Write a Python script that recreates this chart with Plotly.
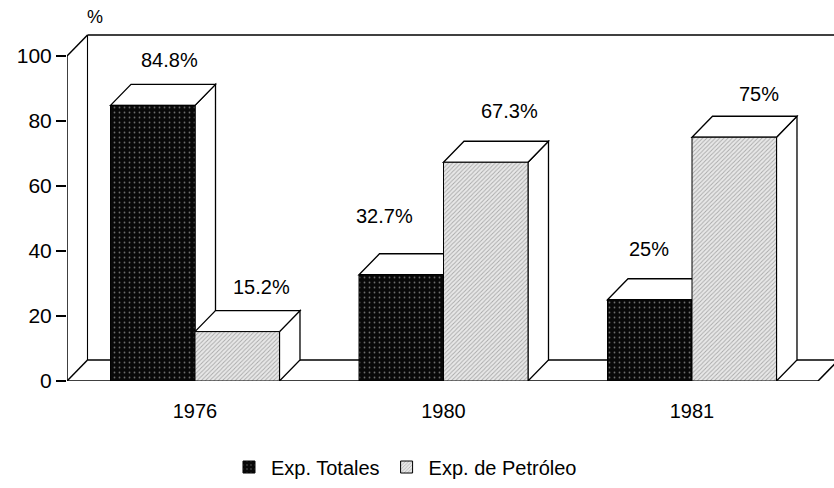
import plotly.graph_objects as go

# ---- data ----
years = ["1976", "1980", "1981"]
exp_totales = [84.8, 32.7, 25]
exp_petroleo = [15.2, 67.3, 75]
lbl_totales = ["84.8%", "32.7%", "25%"]
lbl_petroleo = ["15.2%", "67.3%", "75%"]
y_ticks = [0, 20, 40, 60, 80, 100]

# ---- geometry / style ----
PXU = 248.5            # px per category unit
PYU = 3.25             # px per percent
W = 0.34               # bar width (category units)
DX = 20.5 / PXU        # 3D depth offset x
DY = 21 / PYU          # 3D depth offset y
ML, MR, MT, MB = 67, 0, 10, 107
XMIN = -(195 - ML) / PXU
XMAX = XMIN + (834 - ML - MR) / PXU
YMAX = (488 - MT - MB) / PYU
FLOOR_END = XMIN + (818 - ML) / PXU
# label pixel nudges (style)
tot_xshift = [6, -27, -11]
pet_xshift = [14, 13, 14]
tot_yshift = [24, 38, 30]
pet_yshift = [24, 30, 22]

FONT = "Liberation Sans, Arial, sans-serif"

xc = list(range(len(years)))

shapes = []


def seg(x0, y0, x1, y1, width=1.5):
    shapes.append(dict(type="line", xref="x", yref="y", x0=x0, y0=y0, x1=x1, y1=y1,
                       line=dict(color="black", width=width), layer="below"))


def poly(pts):
    path = "M " + " L ".join(f"{px},{py}" for px, py in pts) + " Z"
    shapes.append(dict(type="path", xref="x", yref="y", path=path,
                       fillcolor="white", line=dict(color="black", width=1.3), layer="below"))


# back wall & floor
seg(XMIN + DX, DY, XMAX, DY)
seg(XMIN + DX, DY, XMIN + DX, 100 + DY, width=1.1)
seg(XMIN + DX, 100 + DY, XMAX, 100 + DY)
seg(XMIN, 0, XMIN + DX, DY)
seg(XMIN, 100, XMIN + DX, 100 + DY)
# front axis & floor edge
seg(XMIN, 0, XMIN, 100)
seg(XMIN, 0, FLOOR_END, 0)
seg(FLOOR_END, 0, FLOOR_END + DX, DY)

# side and top faces of each bar (painter's order)
for i, c in enumerate(xc):
    for x0, v in ((c - W, exp_totales[i]), (c, exp_petroleo[i])):
        x1 = x0 + W
        poly([(x1, 0), (x1 + DX, DY), (x1 + DX, v + DY), (x1, v)])
        poly([(x0, v), (x0 + DX, v + DY), (x1 + DX, v + DY), (x1, v)])

fig = go.Figure()
fig.add_trace(go.Bar(
    x=xc, y=exp_totales, name="Exp. Totales", width=W, offset=-W,
    marker=dict(color="#080808", line=dict(color="black", width=1),
                pattern=dict(shape=".", fgcolor="#cfcfcf", bgcolor="#080808",
                             size=5, solidity=0.1)),
))
fig.add_trace(go.Bar(
    x=xc, y=exp_petroleo, name="Exp. de Petróleo", width=W, offset=0,
    marker=dict(color="white", line=dict(color="black", width=1),
                pattern=dict(shape="/", fgcolor="#6a6a6a", bgcolor="#e8e8e8",
                             size=3, solidity=0.3)),
))

annotations = []
for i, c in enumerate(xc):
    annotations.append(dict(x=c - W / 2 + DX / 2, y=exp_totales[i] + DY, xref="x", yref="y",
                            text=lbl_totales[i], showarrow=False, xshift=tot_xshift[i],
                            yshift=tot_yshift[i], font=dict(size=20, family=FONT, color="black")))
    annotations.append(dict(x=c + W / 2 + DX / 2, y=exp_petroleo[i] + DY, xref="x", yref="y",
                            text=lbl_petroleo[i], showarrow=False, xshift=pet_xshift[i],
                            yshift=pet_yshift[i], font=dict(size=20, family=FONT, color="black")))
annotations.append(dict(x=XMIN + 28 / PXU, y=(381 - 17) / PYU, xref="x", yref="y", text="%",
                        showarrow=False, font=dict(size=18, family=FONT, color="black")))

fig.update_layout(
    width=834, height=488,
    margin=dict(l=ML, r=MR, t=MT, b=MB),
    paper_bgcolor="white", plot_bgcolor="white",
    barmode="overlay",
    shapes=shapes,
    annotations=annotations,
    font=dict(family=FONT, size=20, color="black"),
    xaxis=dict(range=[XMIN, XMAX], tickvals=xc, ticktext=years, showgrid=False,
               zeroline=False, showline=False, ticks="outside", ticklen=12,
               tickcolor="rgba(0,0,0,0)", tickfont=dict(size=20, family=FONT)),
    yaxis=dict(range=[0, YMAX], tickvals=y_ticks, showgrid=False, zeroline=False,
               showline=False, ticks="outside", ticklen=10, tickwidth=1.5, tickcolor="black",
               tickfont=dict(size=21, family=FONT)),
    legend=dict(orientation="h", xref="container", yref="container", x=0.485, y=0.043,
                xanchor="center", yanchor="middle", font=dict(size=20, family=FONT),
                itemwidth=34, traceorder="normal"),
    showlegend=True,
)

fig.write_html("out.html", config={"displayModeBar": False},
               post_script="document.body.style.margin='0';")
